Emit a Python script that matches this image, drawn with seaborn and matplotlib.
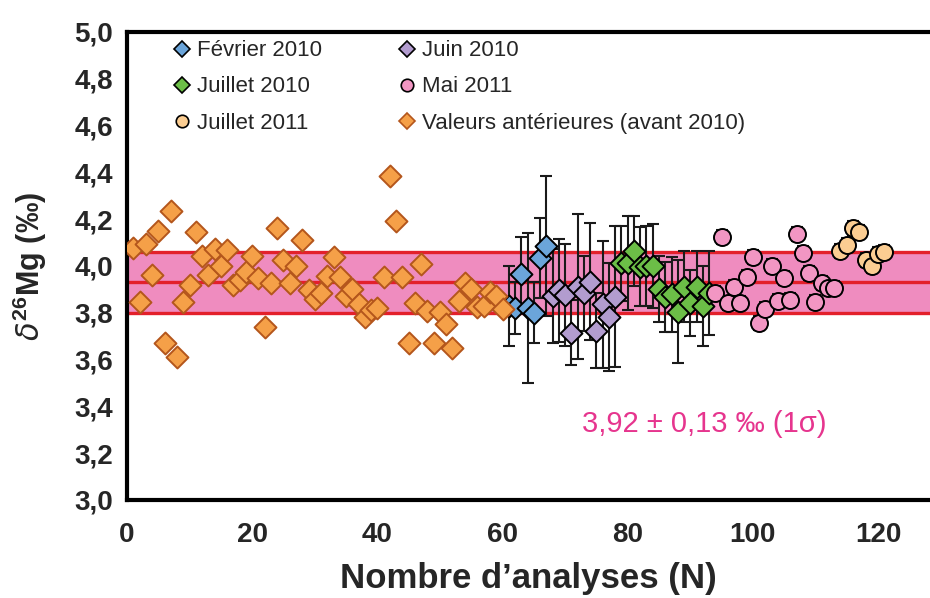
import numpy as np
import pandas as pd
import matplotlib
matplotlib.use("Agg")
import matplotlib.pyplot as plt
import seaborn as sns
from matplotlib import font_manager as fm
from matplotlib.lines import Line2D
from matplotlib.ticker import FuncFormatter

# ---------------- data ----------------
x_ant = list(range(1, 61))
y_ant = [4.076, 3.845, 4.093, 3.96, 4.15, 3.672, 4.235, 3.61, 3.847, 3.92,
         4.147, 4.043, 3.96, 4.073, 4.0, 4.068, 3.919, 3.94, 3.976, 4.043,
         3.95, 3.74, 3.926, 4.161, 4.026, 3.926, 4.0, 4.11, 3.897, 3.86,
         3.883, 3.959, 4.037, 3.954, 3.87, 3.90, 3.838, 3.783, 3.81, 3.819,
         3.952, 4.385, 4.192, 3.953, 3.672, 3.841, 4.009, 3.808, 3.67, 3.802,
         3.752, 3.648, 3.85, 3.926, 3.90, 3.826, 3.829, 3.89, 3.872, 3.815]

x_fev = list(range(61, 68))
y_fev = [3.83, 3.82, 3.965, 3.82, 3.80, 4.035, 4.085]
e_fev = [0.17, 0.11, 0.16, 0.32, 0.13, 0.17, 0.30]

x_juin = list(range(68, 79))
y_juin = [3.872, 3.897, 3.876, 3.715, 3.912, 3.883, 3.933, 3.723, 3.836, 3.783, 3.869]
e_juin = [0.20, 0.22, 0.22, 0.14, 0.31, 0.16, 0.25, 0.16, 0.27, 0.23, 0.30]

x_jul10 = list(range(79, 94))
y_jul10 = [4.012, 4.014, 4.064, 3.997, 4.0, 4.0, 3.902, 3.869, 3.88, 3.805,
           3.912, 3.841, 3.912, 3.829, 3.883]
e_jul10 = [0.16, 0.20, 0.15, 0.17, 0.17, 0.18, 0.14, 0.15, 0.16, 0.22,
           0.15, 0.14, 0.15, 0.17, 0.18]

x_mai11 = list(range(94, 114))
y_mai11 = [3.886, 4.123, 3.843, 3.909, 3.843, 3.954, 4.037, 3.755, 3.815, 4.0,
           3.852, 3.95, 3.855, 4.135, 4.057, 3.971, 3.847, 3.926, 3.904, 3.907]
e_mai11 = [0.03] * 20

x_jul11 = list(range(114, 122))
y_jul11 = [4.065, 4.09, 4.163, 4.147, 4.026, 4.0, 4.051, 4.061]
e_jul11 = [0.03] * 8

mean_val = 3.93
sigma = 0.13
annot = "3,92 ± 0,13 ‰ (1σ)"

x_ticks = [0, 20, 40, 60, 80, 100, 120]
y_ticks = [3.0, 3.2, 3.4, 3.6, 3.8, 4.0, 4.2, 4.4, 4.6, 4.8, 5.0]

# ---------------- style ----------------
sns.set_style("white")
names = {f.name for f in fm.fontManager.ttflist}
narrow = "Liberation Sans Narrow" if "Liberation Sans Narrow" in names else "Liberation Sans"
plt.rcParams["font.family"] = ["Liberation Sans", "DejaVu Sans"]
plt.rcParams["mathtext.fontset"] = "custom"
plt.rcParams["mathtext.rm"] = narrow
plt.rcParams["mathtext.bf"] = narrow + ":bold"

series = [
    ("Février 2010", x_fev, y_fev, e_fev, "#6BA5DA", "black", "D"),
    ("Juillet 2010", x_jul10, y_jul10, e_jul10, "#6CBE47", "black", "D"),
    ("Juillet 2011", x_jul11, y_jul11, e_jul11, "#FBCD92", "black", "o"),
    ("Juin 2010", x_juin, y_juin, e_juin, "#B29CCF", "black", "D"),
    ("Mai 2011", x_mai11, y_mai11, e_mai11, "#F296C3", "black", "o"),
    ("Valeurs antérieures (avant 2010)", x_ant, y_ant, None, "#F5A048", "#B4561C", "D"),
]

fig = plt.figure(figsize=(9.3, 5.98), dpi=100)
ax = fig.add_axes([127 / 930, 98 / 598, 803 / 930, 468 / 598])

# band
ax.axhspan(mean_val - sigma, mean_val + sigma, color="#EF8CBF", zorder=0, lw=0)
for yv in (mean_val - sigma, mean_val, mean_val + sigma):
    ax.axhline(yv, color="#E3202B", lw=2.4, zorder=1)

# error bars
for name, xs, ys, es, fc, ec, mk in series:
    if es is not None:
        ax.errorbar(xs, ys, yerr=es, fmt="none", ecolor="#1a1a1a", elinewidth=1.5,
                    capsize=4.5, capthick=1.5, zorder=2)

# markers via seaborn
for name, xs, ys, es, fc, ec, mk in series:
    df = pd.DataFrame({"N": xs, "val": ys})
    sns.scatterplot(data=df, x="N", y="val", marker=mk, color=fc,
                    edgecolor=ec, linewidth=1.4, s=125 if mk == "D" else 150,
                    ax=ax, zorder=3, legend=False)

ax.set_xlim(0, 128.3)
ax.set_ylim(3.0, 5.0)
ax.set_xticks(x_ticks)
ax.set_yticks(y_ticks)
ax.yaxis.set_major_formatter(FuncFormatter(lambda v, p: f"{v:.1f}".replace(".", ",")))
ax.xaxis.set_major_formatter(FuncFormatter(lambda v, p: f"{int(v)}"))
for lab in ax.get_xticklabels() + ax.get_yticklabels():
    lab.set_fontfamily(narrow)
    lab.set_fontweight("bold")
    lab.set_fontsize(20)
ax.tick_params(axis="both", direction="in", length=9, width=2.5, color="black")
ax.tick_params(axis="y", pad=10)
ax.tick_params(axis="x", pad=16)

for side in ("left", "bottom", "top"):
    ax.spines[side].set_linewidth(3)
    ax.spines[side].set_color("black")
ax.spines["right"].set_visible(False)

ax.set_xlabel("Nombre d’analyses (N)", fontfamily=narrow, fontweight="bold",
              fontsize=25, labelpad=10)
ax.set_ylabel(r"$\delta^{\mathbf{26}}$Mg (‰)", fontfamily=narrow,
              fontweight="bold", fontsize=22, labelpad=18)

ax.text(92.3, 3.325, annot, color="#E6358E", fontsize=21, ha="center", va="center",
        fontfamily="Liberation Sans")

handles = [Line2D([], [], linestyle="none", marker=mk, markerfacecolor=fc,
                  markeredgecolor=ec, markersize=8 if mk == "D" else 9,
                  markeredgewidth=1.2) for (_, _, _, _, fc, ec, mk) in series]
labels = [s[0] for s in series]
ax.legend(handles, labels, ncol=2, loc="upper left", bbox_to_anchor=(0.0435, 1.006),
          frameon=False, prop={"family": narrow, "size": 16}, borderpad=0,
          handlelength=0.8, handletextpad=0.3, columnspacing=3.4, labelspacing=0.68)

fig.savefig("out.png", dpi=100)
